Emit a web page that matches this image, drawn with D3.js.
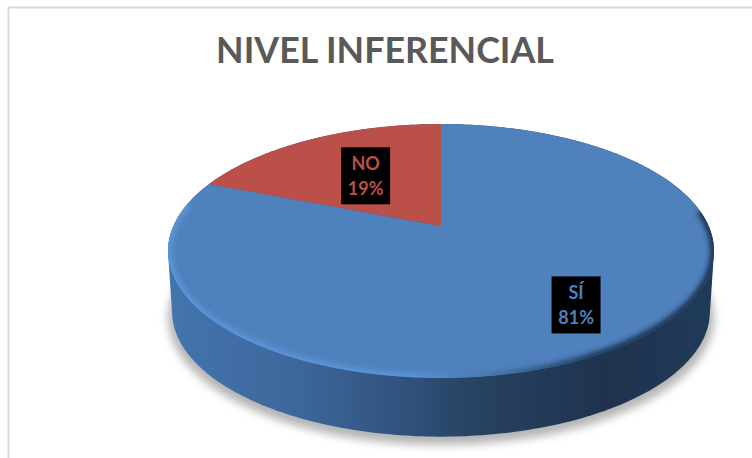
<!DOCTYPE html>
<html>
<head>
<meta charset="utf-8">
<script src="https://cdn.jsdelivr.net/npm/d3@7"></script>
<style>
  html, body { margin: 0; padding: 0; background: #fff; overflow: hidden; }
  text { font-family: Lato, "Open Sans", sans-serif; font-weight: 700; }
</style>
</head>
<body>
<svg id="chart" width="752" height="458"></svg>
<script>
const title = "NIVEL INFERENCIAL";
const categories = ["SÍ", "NO"];
const values = [81, 19];
const colors = ["#4f81bd", "#bb4f4a"];

let svg = d3.select("#chart");
let cx = 441, cy = 226;      // where the pie centre lands on screen
let k = 0.197;               // perspective strength
let spanX = 267.6, spanY = 122, depth = 61, baseScale = 0.985;

// tilted disc: angle 0 is the back of the pie, going clockwise
function project(angle, r, down, scale) {
  let x = Math.sin(angle) * r, z = Math.cos(angle) * r;
  let w = 1 + k * z;
  return [cx + scale * spanX * x / w, cy + down - scale * spanY * z / w];
}

let arcs = d3.pie().sort(null)(values);
let line = d3.line();

function edge(a0, a1, down, scale) {
  let n = Math.max(2, Math.ceil(Math.abs(a1 - a0) * 60));
  return d3.range(n + 1).map(i => project(a0 + (a1 - a0) * i / n, 1, down, scale));
}

let defs = svg.append("defs");

let addGradient = (id, stops) => {
  let g = defs.append("linearGradient").attr("id", id)
    .attr("gradientUnits", "userSpaceOnUse")
    .attr("x1", 168).attr("x2", 715).attr("y1", 0).attr("y2", 0);
  stops.forEach(s => g.append("stop").attr("offset", s[0]).attr("stop-color", s[1]));
};
addGradient("wall", [[0, "#4474ae"], [0.25, "#3c6699"], [0.45, "#2f5079"], [0.55, "#284363"], [0.8, "#1f334d"], [1, "#1f3b5a"]]);
addGradient("rim", [[0, "#5b95da"], [0.45, "#5a94d8"], [0.6, "#4474a8"], [0.78, "#213a5a"], [1, "#1c3350"]]);

defs.append("filter").attr("id", "soft").attr("x", "-10%").attr("y", "-10%").attr("width", "120%").attr("height", "120%")
  .append("feGaussianBlur").attr("stdDeviation", 4);
defs.append("filter").attr("id", "softRim").attr("x", "-10%").attr("y", "-10%").attr("width", "120%").attr("height", "120%")
  .append("feGaussianBlur").attr("stdDeviation", 2.5);

let full = edge(0, 2 * Math.PI, 0, 1);
let base = edge(0, 2 * Math.PI, depth, baseScale);
defs.append("clipPath").attr("id", "face").append("path").attr("d", line(full) + "Z");

// chart frame, only the top and left edges are in the crop
svg.append("path")
  .attr("d", "M8.5,458V7.5H752")
  .attr("fill", "none")
  .attr("stroke", "#d9d9d9")
  .attr("stroke-width", 2);

svg.append("text")
  .attr("x", 385)
  .attr("y", 63)
  .attr("text-anchor", "middle")
  .attr("font-size", 35.8)
  .attr("fill", "#595959")
  .text(title);

// shadow under the disc
svg.append("path")
  .attr("d", line(edge(0, 2 * Math.PI, depth + 6, 1)) + "Z")
  .attr("fill", "#a8a8a8")
  .attr("opacity", 0.85)
  .attr("filter", "url(#soft)");

// side wall is the hull of top and bottom outlines
svg.append("path")
  .attr("d", line(d3.polygonHull(full.concat(base))) + "Z")
  .attr("fill", "url(#wall)");

let slices = svg.append("g");
slices.selectAll("path")
  .data(arcs)
  .join("path")
  .attr("d", d => line([[cx, cy]].concat(edge(d.startAngle, d.endAngle, 0, 1))) + "Z")
  .attr("fill", (d, i) => colors[i]);

// bevel along the front edge of the top face
svg.append("g").attr("clip-path", "url(#face)")
  .append("path")
  .attr("d", line(edge(Math.PI * 0.46, Math.PI * 1.56, 0, 1)))
  .attr("fill", "none")
  .attr("stroke", "url(#rim)")
  .attr("stroke-width", 8)
  .attr("filter", "url(#softRim)");

// labels sit on black boxes, text takes the slice colour
let labelRadius = [0.74, 0.53];
let labelNudge = [[8.5, -6], [-2, -1]];
let labels = svg.append("g").selectAll("g")
  .data(arcs)
  .join("g")
  .attr("transform", (d, i) => {
    let p = project((d.startAngle + d.endAngle) / 2, labelRadius[i], 0, 1);
    return `translate(${p[0] + labelNudge[i][0]},${p[1] + labelNudge[i][1]})`;
  });

labels.append("rect")
  .attr("x", -24.5).attr("y", -28.5)
  .attr("width", 49).attr("height", 57)
  .attr("fill", "#000");
labels.append("text")
  .attr("text-anchor", "middle")
  .attr("y", -5.5)
  .attr("font-size", 18)
  .attr("fill", (d, i) => colors[i])
  .text((d, i) => categories[i]);
labels.append("text")
  .attr("text-anchor", "middle")
  .attr("y", 19.5)
  .attr("font-size", 18)
  .attr("fill", (d, i) => colors[i])
  .text(d => d.value + "%");
</script>
</body>
</html>
